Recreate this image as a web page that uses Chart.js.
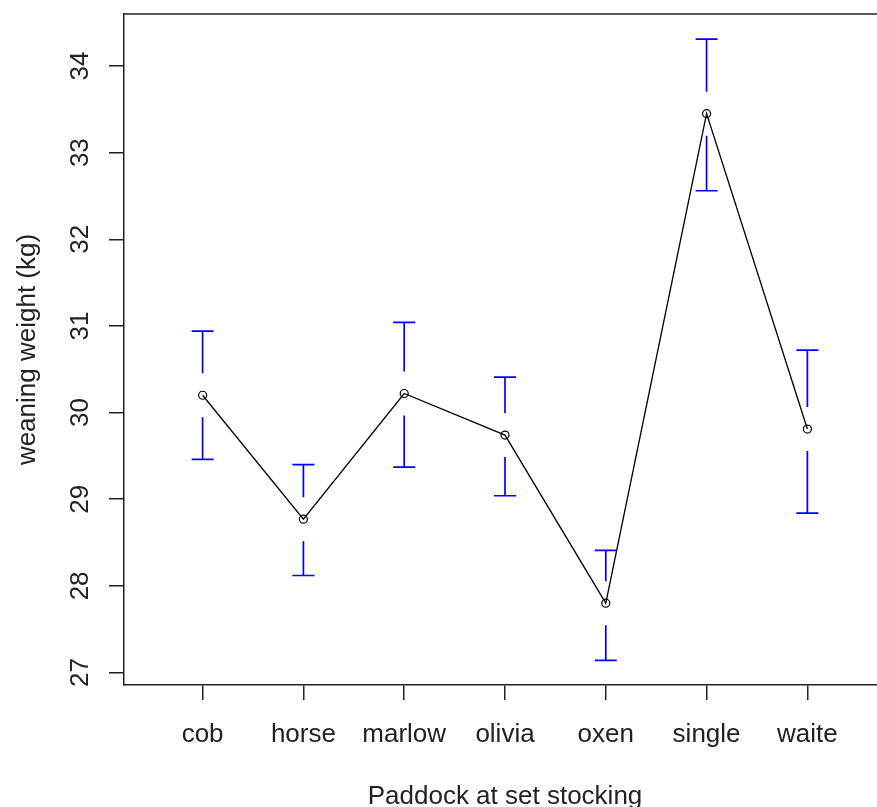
<!DOCTYPE html>
<html>
<head>
<meta charset="utf-8">
<title>Weaning weight by paddock</title>
<script src="https://cdn.jsdelivr.net/npm/chart.js@4.4.1/dist/chart.umd.min.js"></script>
<style>
    html, body { margin: 0; padding: 0; background: #fff; overflow: hidden; }
    #wrap { width: 900px; height: 807px; }
</style>
</head>
<body>
<div id="wrap"><canvas id="chart" width="900" height="807"></canvas></div>
<script>
// ==========================================================================
// Data
// ==========================================================================
const paddocks = ['cob', 'horse', 'marlow', 'olivia', 'oxen', 'single', 'waite'];
const meanWeight = [30.20, 28.77, 30.22, 29.74, 27.80, 33.45, 29.81];
const upperCI = [30.94, 29.40, 31.04, 30.41, 28.41, 34.31, 30.72];
const lowerCI = [29.46, 28.12, 29.37, 29.04, 27.14, 32.56, 28.84];
const yTicks = [27, 28, 29, 30, 31, 32, 33, 34];

const xTitle = 'Paddock at set stocking';
const yTitle = 'weaning weight (kg)';

const FONT = '"Liberation Sans", Arial, sans-serif';
const FONT_SIZE = 26;

// ==========================================================================
// Plugins: error bars, box top line, rotated y labels, axis titles
// ==========================================================================
const errorBars = {
    id: 'errorBars',
    afterDatasetsDraw(chart) {
        const { ctx, scales: { x, y } } = chart;
        const gap = 22, cap = 11;
        ctx.save();
        ctx.strokeStyle = '#0000FF';
        ctx.lineWidth = 1.7;
        paddocks.forEach((p, i) => {
            const px = x.getPixelForValue(i + 1);
            const py = y.getPixelForValue(meanWeight[i]);
            const up = y.getPixelForValue(upperCI[i]);
            const lo = y.getPixelForValue(lowerCI[i]);
            ctx.beginPath();
            ctx.moveTo(px, up); ctx.lineTo(px, py - gap);
            ctx.moveTo(px, py + gap); ctx.lineTo(px, lo);
            ctx.moveTo(px - cap, up); ctx.lineTo(px + cap, up);
            ctx.moveTo(px - cap, lo); ctx.lineTo(px + cap, lo);
            ctx.stroke();
        });
        ctx.restore();
    }
};

const frameAndText = {
    id: 'frameAndText',
    afterDraw(chart) {
        const { ctx, chartArea, scales: { y } } = chart;
        ctx.save();
        // top edge of the box
        ctx.strokeStyle = '#222';
        ctx.lineWidth = 1.5;
        ctx.beginPath();
        ctx.moveTo(chartArea.left, chartArea.top);
        ctx.lineTo(chartArea.right, chartArea.top);
        ctx.stroke();

        ctx.fillStyle = '#222';
        ctx.font = FONT_SIZE + 'px ' + FONT;
        ctx.textAlign = 'center';
        ctx.textBaseline = 'alphabetic';

        // rotated y tick labels
        yTicks.forEach(v => {
            ctx.save();
            ctx.translate(88, y.getPixelForValue(v));
            ctx.rotate(-Math.PI / 2);
            ctx.fillText(String(v), 0, 0);
            ctx.restore();
        });

        // y axis title
        ctx.save();
        ctx.translate(35, (chartArea.top + chartArea.bottom) / 2);
        ctx.rotate(-Math.PI / 2);
        ctx.fillText(yTitle, 0, 0);
        ctx.restore();

        // x axis title
        ctx.fillText(xTitle, (chartArea.left + chartArea.right) / 2, 804);
        ctx.restore();
    }
};

// ==========================================================================
// Chart
// ==========================================================================
const ctx = document.getElementById('chart').getContext('2d');
new Chart(ctx, {
    type: 'line',
    data: {
        datasets: [{
            data: meanWeight.map((v, i) => ({ x: i + 1, y: v })),
            borderColor: '#000',
            borderWidth: 1.3,
            tension: 0,
            pointRadius: 4,
            pointBorderWidth: 1.2,
            pointBorderColor: '#000',
            pointBackgroundColor: 'rgba(255,255,255,0)',
            pointStyle: 'circle',
            fill: false,
        }]
    },
    options: {
        responsive: false,
        animation: false,
        layout: { padding: { top: 14, right: 14, left: 0, bottom: 0 } },
        plugins: {
            legend: { display: false },
            tooltip: { enabled: false }
        },
        scales: {
            x: {
                type: 'linear',
                min: 0.22,
                max: 7.78,
                afterBuildTicks: scale => { scale.ticks = paddocks.map((p, i) => ({ value: i + 1 })); },
                afterFit: scale => { scale.height = 122; },
                grid: { drawOnChartArea: false, drawTicks: true, tickLength: 15, color: '#222', lineWidth: 1.5 },
                border: { display: true, color: '#222', width: 1.5 },
                ticks: {
                    color: '#222',
                    font: { family: FONT, size: FONT_SIZE },
                    padding: 19,
                    maxRotation: 0,
                    autoSkip: false,
                    callback: v => paddocks[v - 1]
                }
            },
            y: {
                type: 'linear',
                min: 26.856,
                max: 34.6,
                afterBuildTicks: scale => { scale.ticks = yTicks.map(v => ({ value: v })); },
                afterFit: scale => { scale.width = 124; },
                grid: { drawOnChartArea: false, drawTicks: true, tickLength: 15, color: '#222', lineWidth: 1.5 },
                border: { display: true, color: '#222', width: 1.5 },
                ticks: { display: false }
            }
        }
    },
    plugins: [errorBars, frameAndText]
});
</script>
</body>
</html>
